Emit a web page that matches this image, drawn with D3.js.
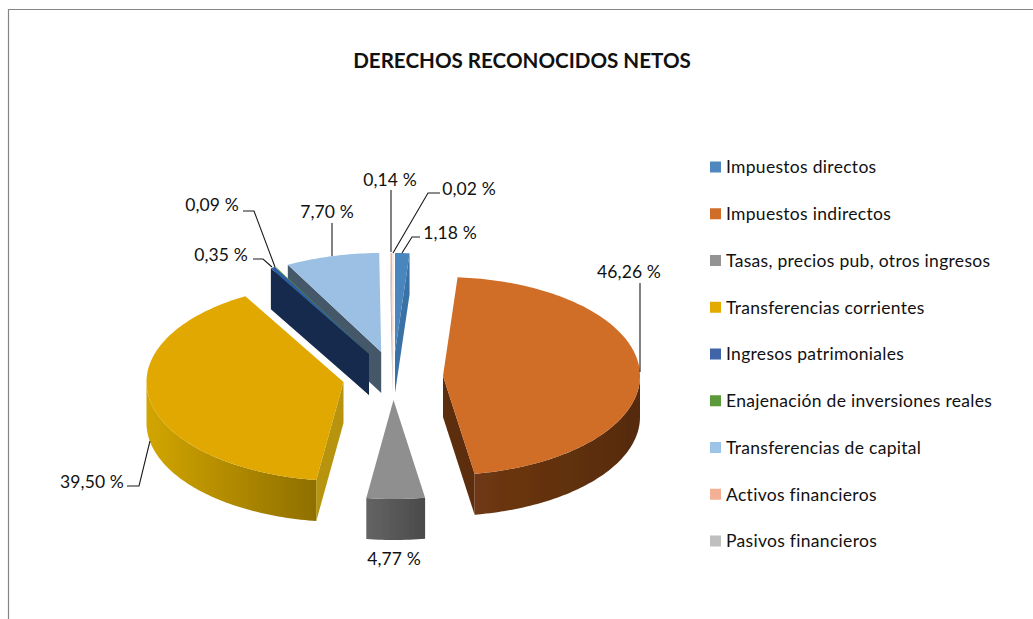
<!DOCTYPE html>
<html><head><meta charset="utf-8">
<script src="https://cdnjs.cloudflare.com/ajax/libs/d3/7.8.5/d3.min.js"></script>
<style>html,body{margin:0;padding:0;background:#fff}svg{display:block}text{font-family:Lato,"Open Sans",sans-serif;fill:#111}</style>
</head><body><div id="chart"></div>
<script>
const title = "DERECHOS RECONOCIDOS NETOS";
const categories = ["Impuestos directos","Impuestos indirectos","Tasas, precios pub, otros ingresos","Transferencias corrientes","Ingresos patrimoniales","Enajenación de inversiones reales","Transferencias de capital","Activos financieros","Pasivos financieros"];
const values = [1.18,46.26,4.77,39.50,0.35,0.09,7.70,0.14,0.02];
const valueLabels = ["1,18 %","46,26 %","4,77 %","39,50 %","0,35 %","0,09 %","7,70 %","0,14 %","0,02 %"];

const topColors = ["#4a86bd","#d06d28","#8f8f8f","#e0a800","#2f5ca6","#5b9a3b","#9cc0e3","#eeb09a","#bdbdbd"];
const legendColors = ["#4f88be","#d06d28","#939393","#e3aa00","#3f64a8","#5b9a3b","#9dc3e6","#f4b094","#bfbfbf"];
const faceColors = ["#3b72a6","#5c2d10","#555555","#b8930a","#182c4d","#2f5a20","#44586a","#b5aaa5","#999999"];
const wallFrom = ["#3f74a6","#6f3812","#646464","#d2a500","#182c4d","#2f5a20","#44586a","#b5aaa5","#999999"];
const wallTo = ["#3f74a6","#552b0d","#4a4a4a","#8f6f00","#182c4d","#2f5a20","#44586a","#b5aaa5","#999999"];
const apexes = [[395,352],[443,376],[393.5,400],[343.5,382],[369,354],[369,354],[381.2,352],[392.5,352],[393.5,352]];
const paintOrder = [6,7,8,0,5,4,3,1,2];
const labelPos = [[450,234.5],[629,273.5],[394,560.5],[92,483.5],[221,256.5],[212,206.5],[327,213.5],[390,181.5],[469,190.5]];
const leaders = [
 [[420,237],[412,237],[402,253]],
 [[640,283],[640,372]],
 [],
 [[127,486],[139,486],[150,441]],
 [[253,259],[263,259],[272,267]],
 [[243,211],[254,211],[275,267]],
 [[332,223],[332,256]],
 [[391,190],[391,252]],
 [[440,193],[428,193],[393,253]]
];

const W = 1033, H = 619, rx = 197, ry = 99, depth = 41;
const svg = d3.select("#chart").append("svg").attr("width",W).attr("height",H);
const defs = svg.append("defs");
defs.append("filter").attr("id","soft").attr("x","-5%").attr("y","-5%").attr("width","110%").attr("height","110%")
  .append("feGaussianBlur").attr("stdDeviation",0.45);
svg.append("path").attr("d","M8.5,619V9.5H1033").attr("fill","none").attr("stroke","#858585").attr("stroke-width",1.2);

svg.append("text").attr("x",522).attr("y",63).attr("text-anchor","middle").attr("dominant-baseline","middle")
  .attr("font-size",20.6).attr("font-weight",700).text(title);

const arcs = d3.pie().sort(null).value(d=>d)(values);
const line = d3.line();
const pt = (i,a,dy=0)=>[apexes[i][0]+rx*Math.sin(a), apexes[i][1]-ry*Math.cos(a)+dy];
const arcPts = (i,a0,a1,dy=0)=>{
  const n = Math.max(2,Math.ceil(Math.abs(a1-a0)/0.02));
  return d3.range(n+1).map(k=>pt(i,a0+(a1-a0)*k/n,dy));
};
const apex = (i,dy=0)=>[apexes[i][0],apexes[i][1]+dy];

const pieG = svg.append("g").attr("filter","url(#soft)");
paintOrder.forEach(i=>{
  const a0 = arcs[i].startAngle, a1 = arcs[i].endAngle;
  const g = pieG.append("g").attr("class","slice");
  const face = (a)=>g.append("path").attr("fill",faceColors[i])
    .attr("d",line([apex(i),pt(i,a),pt(i,a,depth),apex(i,depth)])+"Z");
  if (Math.sin(a0)<0) face(a0);
  if (Math.sin(a1)>0) face(a1);
  const w0 = Math.max(a0,Math.PI/2), w1 = Math.min(a1,3*Math.PI/2);
  if (w1>w0){
    const pts = arcPts(i,w0,w1);
    const xs = d3.extent(pts,p=>p[0]);
    const id = "wall"+i;
    const gr = defs.append("linearGradient").attr("id",id).attr("gradientUnits","userSpaceOnUse")
      .attr("x1",xs[0]).attr("x2",xs[1]).attr("y1",0).attr("y2",0);
    gr.append("stop").attr("offset",0).attr("stop-color",wallFrom[i]);
    gr.append("stop").attr("offset",1).attr("stop-color",wallTo[i]);
    g.append("path").attr("fill",`url(#${id})`)
      .attr("d",line(pts.concat(arcPts(i,w1,w0,depth)))+"Z");
  }
  g.append("path").attr("fill",topColors[i])
    .attr("d",line([apex(i)].concat(arcPts(i,a0,a1)))+"Z");
});

svg.append("g").selectAll("path").data(leaders.filter(l=>l.length)).join("path")
  .attr("d",d=>line(d)).attr("fill","none").attr("stroke","#1a1a1a").attr("stroke-width",1.1);
svg.append("g").selectAll("text").data(valueLabels).join("text")
  .attr("x",(d,i)=>labelPos[i][0]).attr("y",(d,i)=>labelPos[i][1])
  .attr("text-anchor","middle").attr("dominant-baseline","middle")
  .attr("font-size",17.5).style("letter-spacing","0.1px").text(d=>d);

const yL = d3.scalePoint().domain(categories).range([167,541]);
const lg = svg.append("g").selectAll("g").data(categories).join("g")
  .attr("transform",d=>`translate(710,${yL(d)})`);
lg.append("rect").attr("x",0).attr("y",-5.5).attr("width",11).attr("height",11).attr("fill",(d,i)=>legendColors[i]);
lg.append("text").attr("x",16).attr("y",2).attr("dominant-baseline","middle").attr("font-size",17.5).style("letter-spacing","0.3px").text(d=>d);
</script></body></html>
